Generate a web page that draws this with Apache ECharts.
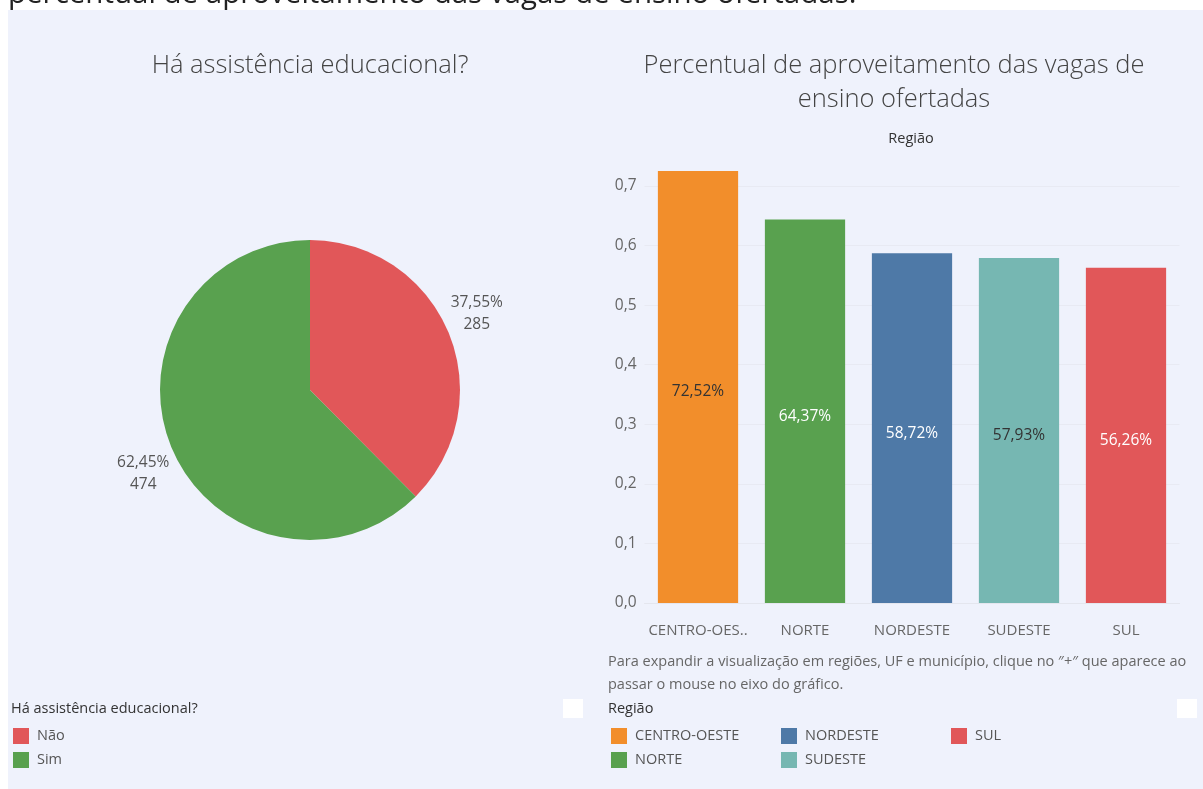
<!DOCTYPE html>
<html><head><meta charset="utf-8">
<script src="https://cdn.jsdelivr.net/npm/echarts@6/dist/echarts.min.js"></script>
<style>html,body{margin:0;padding:0;background:#fff}#c{width:1203px;height:789px}</style>
</head><body><div id="c"></div>
<script>
// ---- data ----
const pieNames = ['Não', 'Sim'];
const pieValues = [285, 474];
const pieColors = ['#e15759', '#59a14f'];

const regions = ['CENTRO-OESTE', 'NORTE', 'NORDESTE', 'SUDESTE', 'SUL'];
const regionValues = [0.7252, 0.6437, 0.5872, 0.5793, 0.5626];
const regionColors = ['#f28e2b', '#59a14f', '#4e79a7', '#76b7b2', '#e15759'];
const regionLabelColors = ['#333333', '#ffffff', '#ffffff', '#333333', '#ffffff'];
const yTicks = [0, 0.1, 0.2, 0.3, 0.4, 0.5, 0.6, 0.7];

const FONT = '"Open Sans", "Noto Sans", sans-serif';
const chart = echarts.init(document.getElementById('c'));

const barSeries = regions.map((r, i) => ({
  type: 'bar',
  name: r,
  stack: 'all',
  clip: false,
  barCategoryGap: '25%',
  itemStyle: { color: regionColors[i] },
  label: {
    show: true, position: 'inside', offset: [0, 5], color: regionLabelColors[i],
    fontFamily: FONT, fontSize: 15.5,
    formatter: p => (p.value * 100).toFixed(2).replace('.', ',') + '%'
  },
  data: regions.map((_, j) => j === i ? regionValues[i] : '-')
}));

const legendBase = {
  orient: 'vertical', icon: 'rect', itemWidth: 16, itemHeight: 16, itemGap: 8,
  textStyle: { color: '#555', fontSize: 14.5, fontFamily: FONT, padding: [0, 0, 0, 3] }, selectedMode: false
};

chart.setOption({
  backgroundColor: 'transparent',
  animation: false,
  textStyle: { fontFamily: FONT },
  title: [
    { text: 'Há assistência educacional?', left: 305, top: 48, textAlign: 'center',
      textStyle: { fontSize: 25.5, fontWeight: 'lighter', color: '#444', fontFamily: FONT } },
    { text: 'Percentual de aproveitamento das vagas de\nensino ofertadas', left: 889, top: 44, textAlign: 'center',
      textStyle: { fontSize: 25.5, fontWeight: 'lighter', color: '#444', lineHeight: 34, fontFamily: FONT } }
  ],
  graphic: [
    { type: 'rect', shape: { x: 8, y: 10, width: 1195, height: 779 }, style: { fill: '#eff2fc' }, z: -10, silent: true },
    { type: 'text', x: 8, y: -5, style: { text: 'percentual de aproveitamento das vagas de ensino ofertadas.', fill: '#222', font: '29.5px "Open Sans"', verticalAlign: 'middle' }, z: 10 },
    { type: 'text', x: 911, y: 139, style: { text: 'Região', fill: '#333', font: '14.5px "Open Sans"', align: 'center', verticalAlign: 'middle' } },
    { type: 'text', x: 608, y: 673.5, style: { text: 'Para expandir a visualização em regiões, UF e município, clique no ″+″ que aparece ao\npassar o mouse no eixo do gráfico.', fill: '#666', font: '14.5px "Open Sans"', lineHeight: 23, verticalAlign: 'middle' } },
    { type: 'text', x: 11, y: 709, style: { text: 'Há assistência educacional?', fill: '#333', font: '14.5px "Open Sans"', verticalAlign: 'middle' } },
    { type: 'text', x: 608, y: 709, style: { text: 'Região', fill: '#333', font: '14.5px "Open Sans"', verticalAlign: 'middle' } },
    { type: 'rect', shape: { x: 563, y: 699, width: 20, height: 19 }, style: { fill: '#ffffff' } },
    { type: 'rect', shape: { x: 1177, y: 699, width: 20, height: 19 }, style: { fill: '#ffffff' } }
  ],
  legend: [
    Object.assign({}, legendBase, { left: 8, top: 723, data: pieNames }),
    Object.assign({}, legendBase, { left: 606, top: 723, data: [regions[0], regions[1]] }),
    Object.assign({}, legendBase, { left: 776, top: 723, data: [regions[2], regions[3]] }),
    Object.assign({}, legendBase, { left: 946, top: 723, data: [regions[4]] })
  ],
  grid: { left: 644.5, right: 23.5, top: 186, bottom: 186, containLabel: false },
  xAxis: {
    type: 'category', data: regions,
    axisLine: { show: true, lineStyle: { color: '#e4e6ee' } },
    axisTick: { show: false },
    axisLabel: { color: '#666', fontSize: 15, margin: 20, interval: 0, fontFamily: FONT,
      formatter: v => v.length > 10 ? v.slice(0, 10) + '..' : v }
  },
  yAxis: {
    type: 'value', min: 0, max: 0.7, interval: 0.1,
    axisLine: { show: false }, axisTick: { show: false },
    splitLine: { lineStyle: { color: '#e8eaf3' } },
    axisLabel: { color: '#666', fontSize: 15.5, margin: 8, fontFamily: FONT,
      formatter: v => yTicks.some(t => Math.abs(t - v) < 1e-9) ? v.toFixed(1).replace('.', ',') : '' }
  },
  series: [
    {
      type: 'pie', center: [310, 390], radius: 150, startAngle: 90, clockwise: true,
      data: pieNames.map((n, i) => ({ name: n, value: pieValues[i], itemStyle: { color: pieColors[i] } })),
      label: {
        show: true, position: 'outside', color: '#555', fontSize: 15.5, lineHeight: 22, fontFamily: FONT,
        formatter: p => p.percent.toFixed(2).replace('.', ',') + '%\n' + p.value
      },
      labelLine: { show: false, length: 25, length2: 0 },
      labelLayout: p => ({ align: 'center', dy: p.labelRect.x > 310 ? -10 : 17 }),
      emphasis: { disabled: true }
    }
  ].concat(barSeries)
});
</script></body></html>
